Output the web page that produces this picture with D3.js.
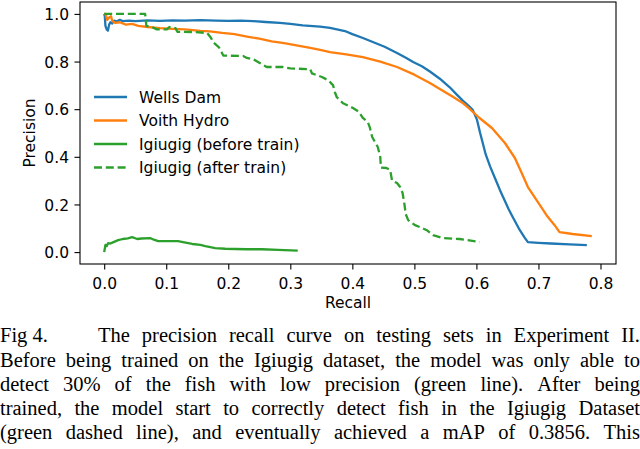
<!DOCTYPE html>
<html>
<head>
<meta charset="utf-8">
<script src="https://cdn.jsdelivr.net/npm/d3@7"></script>
<style>
  body { margin: 0; background: #fff; }
  svg { display: block; }
  .tick text { font-family: "DejaVu Sans", sans-serif; font-size: 15.5px; fill: #000; }
  .tick line { stroke: #000; stroke-width: 1.1px; }
  .label { font-family: "DejaVu Sans", sans-serif; font-size: 15.5px; fill: #000; }
  .caption { font-family: "Liberation Serif", "Times New Roman", serif; font-size: 20.5px; fill: #000; }
</style>
</head>
<body>
<svg id="chart" width="640" height="449"></svg>
<script>
// series names and colours (matplotlib default cycle)
var seriesNames = ['Wells Dam', 'Voith Hydro', 'Igiugig (before train)', 'Igiugig (after train)'];
var seriesColors = ['#1f77b4', '#ff7f0e', '#2ca02c', '#2ca02c'];
var seriesDashed = [false, false, false, true];

// [recall, precision]
var wellsDam = [[0,1.0],[0.001,0.99],[0.002,0.95],[0.004,0.935],[0.006,0.93],[0.008,0.955],[0.010,0.965],[0.013,0.96],[0.016,0.972],[0.02,0.968],[0.025,0.975],[0.03,0.97],[0.04,0.972],[0.05,0.97],[0.07,0.973],[0.09,0.971],[0.11,0.973],[0.13,0.972],[0.155,0.974],[0.18,0.972],[0.2,0.971],[0.22,0.972],[0.24,0.970],[0.26,0.966],[0.283,0.962],[0.3,0.958],[0.32,0.952],[0.348,0.947],[0.364,0.941],[0.388,0.928],[0.40,0.915],[0.417,0.899],[0.43,0.885],[0.452,0.862],[0.472,0.836],[0.487,0.815],[0.498,0.798],[0.512,0.78],[0.525,0.758],[0.541,0.728],[0.557,0.692],[0.568,0.662],[0.578,0.636],[0.587,0.615],[0.594,0.597],[0.601,0.555],[0.606,0.50],[0.61,0.46],[0.615,0.41],[0.622,0.36],[0.63,0.31],[0.638,0.26],[0.645,0.22],[0.652,0.18],[0.66,0.14],[0.670,0.092],[0.678,0.06],[0.683,0.042],[0.70,0.039],[0.72,0.036],[0.75,0.032],[0.778,0.029]];

var voithHydro = [[0,1.0],[0.002,1.0],[0.005,0.975],[0.008,0.985],[0.011,0.99],[0.013,0.97],[0.018,0.962],[0.025,0.965],[0.035,0.955],[0.045,0.958],[0.055,0.95],[0.07,0.945],[0.09,0.94],[0.11,0.937],[0.13,0.935],[0.155,0.929],[0.17,0.927],[0.19,0.92],[0.21,0.915],[0.23,0.905],[0.25,0.896],[0.27,0.885],[0.29,0.877],[0.31,0.868],[0.33,0.858],[0.35,0.848],[0.364,0.84],[0.39,0.83],[0.417,0.819],[0.445,0.80],[0.472,0.777],[0.50,0.745],[0.525,0.71],[0.541,0.685],[0.56,0.655],[0.578,0.626],[0.586,0.609],[0.605,0.563],[0.625,0.521],[0.646,0.458],[0.662,0.395],[0.673,0.332],[0.683,0.273],[0.697,0.218],[0.713,0.155],[0.726,0.113],[0.734,0.084],[0.755,0.076],[0.786,0.067]];

var igiugigBefore = [[0,0.0],[0.001,0.015],[0.002,0.03],[0.004,0.025],[0.0064,0.038],[0.01,0.036],[0.015,0.042],[0.0225,0.05],[0.03,0.055],[0.038,0.058],[0.045,0.063],[0.05,0.058],[0.053,0.055],[0.06,0.057],[0.074,0.059],[0.08,0.052],[0.087,0.046],[0.1,0.046],[0.119,0.046],[0.127,0.042],[0.142,0.034],[0.155,0.03],[0.163,0.025],[0.179,0.017],[0.195,0.014],[0.211,0.013],[0.23,0.012],[0.254,0.012],[0.28,0.009],[0.312,0.006]];

var igiugigAfter = [[0,1.0],[0.066,1.0],[0.068,0.95],[0.077,0.945],[0.085,0.935],[0.101,0.935],[0.105,0.945],[0.115,0.94],[0.118,0.925],[0.143,0.924],[0.166,0.92],[0.172,0.90],[0.176,0.88],[0.185,0.86],[0.19,0.835],[0.192,0.825],[0.224,0.823],[0.23,0.815],[0.24,0.81],[0.25,0.795],[0.262,0.777],[0.288,0.777],[0.30,0.771],[0.332,0.768],[0.335,0.75],[0.351,0.735],[0.362,0.72],[0.369,0.70],[0.372,0.67],[0.375,0.65],[0.385,0.625],[0.393,0.615],[0.401,0.605],[0.41,0.59],[0.417,0.563],[0.425,0.545],[0.428,0.525],[0.432,0.483],[0.441,0.441],[0.445,0.40],[0.446,0.355],[0.455,0.353],[0.461,0.345],[0.464,0.30],[0.472,0.29],[0.477,0.273],[0.481,0.248],[0.484,0.20],[0.486,0.16],[0.49,0.134],[0.501,0.113],[0.509,0.105],[0.52,0.092],[0.53,0.071],[0.546,0.059],[0.573,0.055],[0.605,0.042]];

var xTicks = [0.0, 0.1, 0.2, 0.3, 0.4, 0.5, 0.6, 0.7, 0.8];
var yTicks = [0.0, 0.2, 0.4, 0.6, 0.8, 1.0];

var captionFirst = 'Fig 4.';
var captionLines = [
  'The precision recall curve on testing sets in Experiment II.',
  'Before being trained on the Igiugig dataset, the model was only able to',
  'detect 30% of the fish with low precision (green line). After being',
  'trained, the model start to correctly detect fish in the Igiugig Dataset',
  '(green dashed line), and eventually achieved a mAP of 0.3856. This'
];

(function() {
  var svg = d3.select('#chart');
  var LEFT = 80, RIGHT = 616, TOP = 2, BOTTOM = 264;

  var x = d3.scaleLinear().domain([-0.039, 0.825]).range([LEFT, RIGHT]);
  var y = d3.scaleLinear().domain([-0.05, 1.05]).range([BOTTOM, TOP]);

  svg.append('clipPath').attr('id', 'plotClip')
    .append('rect')
    .attr('x', LEFT).attr('y', TOP)
    .attr('width', RIGHT - LEFT).attr('height', BOTTOM - TOP);

  var line = d3.line()
    .x(function(d) { return x(d[0]); })
    .y(function(d) { return y(d[1]); });

  var allSeries = [wellsDam, voithHydro, igiugigBefore, igiugigAfter];
  var plot = svg.append('g').attr('clip-path', 'url(#plotClip)');
  allSeries.forEach(function(data, i) {
    plot.append('path')
      .datum(data)
      .attr('d', line)
      .attr('fill', 'none')
      .attr('stroke', seriesColors[i])
      .attr('stroke-width', 2.3)
      .attr('stroke-linejoin', 'round')
      .attr('stroke-dasharray', seriesDashed[i] ? '8,3.8' : null);
  });

  var xAxis = d3.axisBottom(x).tickValues(xTicks).tickFormat(d3.format('.1f'))
    .tickSize(5.5).tickPadding(5);
  var yAxis = d3.axisLeft(y).tickValues(yTicks).tickFormat(d3.format('.1f'))
    .tickSize(5.5).tickPadding(5.5);

  var gx = svg.append('g').attr('transform', 'translate(0,' + BOTTOM + ')').call(xAxis);
  var gy = svg.append('g').attr('transform', 'translate(' + LEFT + ',0)').call(yAxis);
  gx.select('.domain').remove();
  gy.select('.domain').remove();
  gx.selectAll('.tick text').attr('dy', '0.95em');
  gy.selectAll('.tick text').attr('dy', '0.36em');

  // spines
  svg.append('rect')
    .attr('x', LEFT).attr('y', TOP)
    .attr('width', RIGHT - LEFT).attr('height', BOTTOM - TOP)
    .attr('fill', 'none').attr('stroke', '#000').attr('stroke-width', 1.1);

  svg.append('text').attr('class', 'label')
    .attr('x', (LEFT + RIGHT) / 2).attr('y', 308)
    .attr('text-anchor', 'middle').text('Recall');

  svg.append('text').attr('class', 'label')
    .attr('transform', 'translate(35,' + ((TOP + BOTTOM) / 2) + ') rotate(-90)')
    .attr('text-anchor', 'middle').text('Precision');

  // legend
  var legend = svg.append('g');
  seriesNames.forEach(function(name, i) {
    var ly = 97 + i * 23.5;
    legend.append('line')
      .attr('x1', 94).attr('x2', 127).attr('y1', ly).attr('y2', ly)
      .attr('stroke', seriesColors[i]).attr('stroke-width', 2.3)
      .attr('stroke-dasharray', seriesDashed[i] ? '8,3.8' : null);
    legend.append('text').attr('class', 'label')
      .attr('x', 139).attr('y', ly).attr('dy', '0.36em')
      .text(name);
  });

  // caption, justified word by word
  function justify(text, left, right, baseline) {
    var words = text.split(' ');
    var nodes = words.map(function(w) {
      return svg.append('text').attr('class', 'caption').attr('y', baseline).text(w);
    });
    var widths = nodes.map(function(n) { return n.node().getComputedTextLength(); });
    var gap = (right - left - d3.sum(widths)) / (words.length - 1);
    var pos = left;
    nodes.forEach(function(n, i) {
      n.attr('x', pos);
      pos += widths[i] + gap;
    });
  }

  var baselines = [342, 366.5, 390.7, 414.9, 439];
  svg.append('text').attr('class', 'caption').attr('x', 0).attr('y', baselines[0]).text(captionFirst);
  captionLines.forEach(function(t, i) {
    justify(t, i === 0 ? 98 : 0, 640, baselines[i]);
  });
})();
</script>
</body>
</html>
